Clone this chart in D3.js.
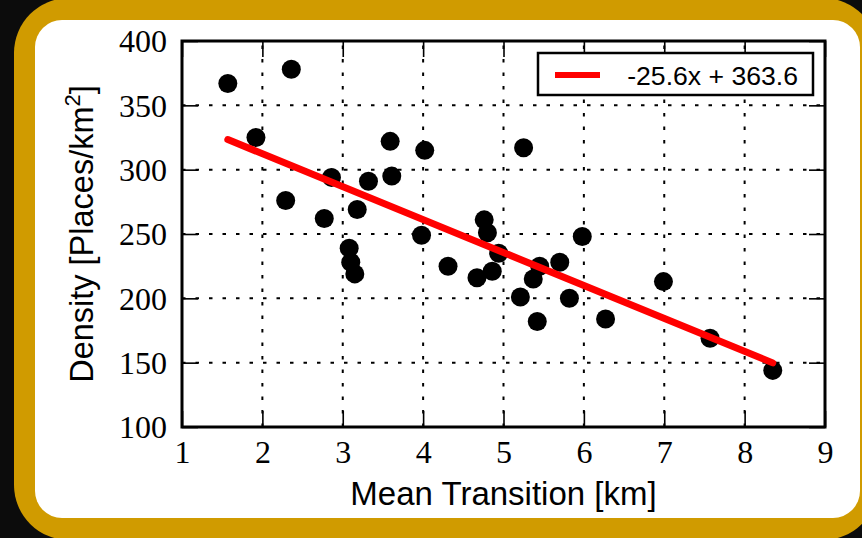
<!DOCTYPE html>
<html>
<head>
<meta charset="utf-8">
<script src="https://cdn.jsdelivr.net/npm/d3@7"></script>
<style>
  body { margin: 0; background: #0c0c0c; }
  svg { display: block; }
</style>
</head>
<body>
<div id="chart"></div>
<script>
// data
const meanTransition = [1.57, 2.36, 1.92, 2.29, 2.77, 2.86, 3.32, 3.59, 3.61, 4.02, 3.18,
  3.98, 4.31, 3.08, 3.10, 3.15, 5.25, 4.67, 4.76, 4.80, 4.94, 4.86, 5.21, 5.42, 5.37,
  5.45, 5.70, 5.82, 5.98, 6.27, 6.99, 7.57, 8.35]
const density = [367, 378, 325, 276, 262, 294, 291, 322, 295, 315, 269,
  249, 225, 239, 228, 219, 317, 216, 261, 251, 235, 221, 201, 182, 215,
  225, 228, 200, 248, 184, 213, 169, 144]
const xTicks = [1, 2, 3, 4, 5, 6, 7, 8, 9]
const yTicks = [100, 150, 200, 250, 300, 350, 400]
// fit line from the legend
const slope = -25.6
const intercept = 363.6
const legendLabel = "-25.6x + 363.6"

const width = 862
const height = 538
const plot = {left: 182, right: 825, top: 41, bottom: 427}

const svg = d3.select("#chart").append("svg")
  .attr("width", width)
  .attr("height", height)

// frame: gold border and white card
svg.append("rect")
  .attr("x", 14).attr("y", -2)
  .attr("width", 864).attr("height", 542)
  .attr("rx", 55).attr("ry", 55)
  .attr("fill", "#d09b00")
svg.append("rect")
  .attr("x", 35).attr("y", 20)
  .attr("width", 825).attr("height", 498)
  .attr("rx", 27).attr("ry", 27)
  .attr("fill", "#ffffff")

const x = d3.scaleLinear().domain([1, 9]).range([plot.left, plot.right])
const y = d3.scaleLinear().domain([100, 400]).range([plot.bottom, plot.top])

// dotted grid
const grid = svg.append("g")
  .attr("stroke", "#000")
  .attr("stroke-width", 2)
  .attr("stroke-dasharray", "3.5,10")
grid.selectAll(".gx").data(xTicks.slice(1, -1)).enter().append("line")
  .attr("x1", d => x(d)).attr("x2", d => x(d))
  .attr("y1", plot.bottom).attr("y2", plot.top)
grid.selectAll(".gy").data(yTicks.slice(1, -1)).enter().append("line")
  .attr("y1", d => y(d)).attr("y2", d => y(d))
  .attr("x1", plot.left).attr("x2", plot.right)

// axes (ticks point inward)
const tickLen = 16
const xAxis = svg.append("g")
  .attr("transform", `translate(0,${plot.bottom})`)
  .call(d3.axisBottom(x).tickValues(xTicks).tickSize(-tickLen).tickPadding(14).tickFormat(d3.format("d")))
const yAxis = svg.append("g")
  .attr("transform", `translate(${plot.left},0)`)
  .call(d3.axisLeft(y).tickValues(yTicks).tickSize(-tickLen).tickPadding(15).tickFormat(d3.format("d")))
svg.append("g")
  .attr("transform", `translate(0,${plot.top})`)
  .call(d3.axisTop(x).tickValues(xTicks).tickSize(-tickLen).tickFormat(""))
svg.append("g")
  .attr("transform", `translate(${plot.right},0)`)
  .call(d3.axisRight(y).tickValues(yTicks).tickSize(-tickLen).tickFormat(""))

svg.selectAll(".domain").remove()
svg.selectAll(".tick line").attr("stroke", "#000").attr("stroke-width", 1.6)
svg.selectAll(".tick text")
  .attr("font-family", "'Liberation Serif', 'Times New Roman', serif")
  .attr("font-size", 32)
  .attr("fill", "#000")
xAxis.selectAll(".tick text").attr("y", 36).attr("dy", 0)
yAxis.selectAll(".tick text").attr("dy", "0.34em")

// points
svg.append("g").selectAll("circle")
  .data(meanTransition.map((v, i) => ({x: v, y: density[i]})))
  .enter().append("circle")
  .attr("cx", d => x(d.x))
  .attr("cy", d => y(d.y))
  .attr("r", 9.5)
  .attr("fill", "#000")

// regression line over the data range
const xr = d3.extent(meanTransition)
svg.append("line")
  .attr("x1", x(xr[0])).attr("y1", y(slope * xr[0] + intercept))
  .attr("x2", x(xr[1])).attr("y2", y(slope * xr[1] + intercept))
  .attr("stroke", "#ff0000")
  .attr("stroke-width", 7)
  .attr("stroke-linecap", "round")

// axes box
svg.append("rect")
  .attr("x", plot.left).attr("y", plot.top)
  .attr("width", plot.right - plot.left).attr("height", plot.bottom - plot.top)
  .attr("fill", "none")
  .attr("stroke", "#000")
  .attr("stroke-width", 3)

// axis labels
svg.append("text")
  .attr("x", (plot.left + plot.right) / 2)
  .attr("y", 505)
  .attr("text-anchor", "middle")
  .attr("font-family", "'Liberation Sans', Arial, sans-serif")
  .attr("font-size", 33)
  .text("Mean Transition [km]")

const yl = svg.append("text")
  .attr("transform", `translate(93,${(plot.top + plot.bottom) / 2}) rotate(-90)`)
  .attr("text-anchor", "middle")
  .attr("font-family", "'Liberation Sans', Arial, sans-serif")
  .attr("font-size", 32.5)
yl.append("tspan").text("Density [Places/km")
yl.append("tspan").attr("font-size", 22).attr("dy", -13).text("2")
yl.append("tspan").attr("dy", 13).text("]")

// legend
const lg = svg.append("g")
lg.append("rect")
  .attr("x", 538).attr("y", 53)
  .attr("width", 275).attr("height", 42)
  .attr("fill", "#fff")
  .attr("stroke", "#000")
  .attr("stroke-width", 2.5)
lg.append("line")
  .attr("x1", 555).attr("x2", 600)
  .attr("y1", 75).attr("y2", 75)
  .attr("stroke", "#ff0000")
  .attr("stroke-width", 6)
lg.append("text")
  .attr("x", 798).attr("y", 84.5)
  .attr("text-anchor", "end")
  .attr("font-family", "'Liberation Sans', Arial, sans-serif")
  .attr("font-size", 26.6)
  .text(legendLabel)
</script>
</body>
</html>
